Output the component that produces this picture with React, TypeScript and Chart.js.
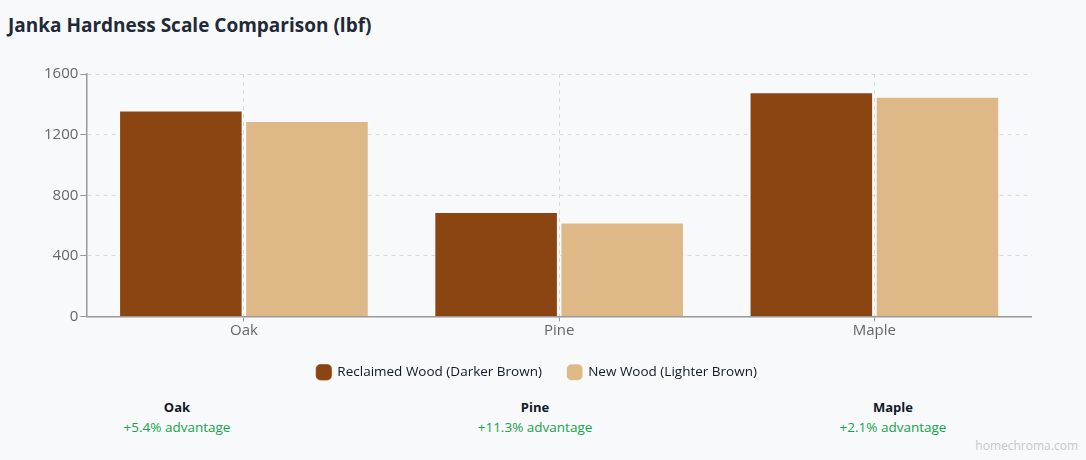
import React, { useEffect, useRef } from "react";
import { Chart, registerables } from "chart.js";

Chart.register(...registerables);

const woods = ["Oak", "Pine", "Maple"];
const reclaimed = [1360, 690, 1480];
const newWood = [1290, 620, 1450];
const yTicks = [0, 400, 800, 1200, 1600];

const FONT = "'Open Sans', 'Noto Sans', sans-serif";

// draws the dashed line on the right edge of the plot
const rightEdge = {
  id: "rightEdge",
  beforeDatasetsDraw(chart: any) {
    const { ctx, chartArea } = chart;
    ctx.save();
    ctx.strokeStyle = "#d9d9d9";
    ctx.lineWidth = 1;
    ctx.setLineDash([4, 4]);
    ctx.beginPath();
    ctx.moveTo(chartArea.right + 0.5, chartArea.top);
    ctx.lineTo(chartArea.right + 0.5, chartArea.bottom);
    ctx.stroke();
    ctx.restore();
  },
};

const WoodChart: React.FC = () => {
  const chartRef = useRef<HTMLCanvasElement | null>(null);

  useEffect(() => {
    const canvas = chartRef.current;
    if (!canvas) return;
    const context = canvas.getContext("2d");
    if (!context) return;

    const chart = new Chart(context, {
      type: "bar",
      data: {
        labels: woods,
        datasets: [
          {
            label: "Reclaimed Wood (Darker Brown)",
            data: reclaimed,
            backgroundColor: "#8B4513",
            borderColor: "rgba(255,255,255,0.35)",
            borderWidth: 1,
            categoryPercentage: 0.8,
            barPercentage: 0.98,
          },
          {
            label: "New Wood (Lighter Brown)",
            data: newWood,
            backgroundColor: "#DEB887",
            borderColor: "rgba(255,255,255,0.6)",
            borderWidth: 1,
            categoryPercentage: 0.8,
            barPercentage: 0.98,
          },
        ],
      },
      options: {
        responsive: true,
        maintainAspectRatio: false,
        animation: false,
        layout: { padding: 0 },
        plugins: {
          legend: {
            position: "bottom",
            labels: {
              usePointStyle: true,
              pointStyle: "rectRounded",
              boxWidth: 16,
              boxHeight: 16,
              padding: 26,
              color: "#111827",
              font: { family: FONT, size: 13.5 },
            },
          },
          tooltip: { enabled: false },
        },
        scales: {
          x: {
            grid: {
              offset: false,
              color: "#d9d9d9",
              tickColor: "#999",
              tickLength: 5,
            },
            border: { color: "#999", width: 1.5, dash: [4, 4] },
            ticks: {
              color: "#666",
              font: { family: FONT, size: 15 },
              padding: 0,
            },
          },
          y: {
            min: 0,
            max: 1600,
            afterBuildTicks: (axis: any) => {
              axis.ticks = yTicks.map((v) => ({ value: v }));
            },
            grid: {
              color: "#d9d9d9",
              tickColor: "#999",
              tickLength: 6,
            },
            border: { color: "#999", width: 1.5, dash: [4, 4] },
            ticks: {
              color: "#666",
              font: { family: FONT, size: 15 },
              padding: 2,
              callback: (v: any) => String(v),
            },
          },
        },
      },
      plugins: [rightEdge],
    });

    return () => {
      chart.destroy();
    };
  }, []);

  return (
    <div
      style={{
        position: "absolute",
        left: 42,
        top: 63,
        width: 990,
        height: 326,
      }}
    >
      <canvas ref={chartRef} />
    </div>
  );
};

const App: React.FC = () => {
  const stats = woods.map((w, i) => ({
    name: w,
    pct: ((reclaimed[i] - newWood[i]) / newWood[i]) * 100,
  }));

  return (
    <div
      style={{
        position: "fixed",
        inset: 0,
        background: "#f8f9fb",
        fontFamily: FONT,
        overflow: "hidden",
      }}
    >
      <div
        style={{
          position: "absolute",
          left: 8,
          top: 12,
          fontSize: 19,
          fontWeight: 700,
          color: "#1f2937",
        }}
      >
        Janka Hardness Scale Comparison (lbf)
      </div>
      <WoodChart />
      <div
        style={{
          position: "absolute",
          left: 27,
          top: 397,
          width: 1016,
          display: "grid",
          gridTemplateColumns: "1fr 1fr 1fr",
          columnGap: 58,
          textAlign: "center",
        }}
      >
        {stats.map((s) => (
          <div key={s.name}>
            <div style={{ fontSize: 13, fontWeight: 700, color: "#111827", lineHeight: "20px" }}>
              {s.name}
            </div>
            <div style={{ fontSize: 13.5, color: "#16a34a", lineHeight: "20px" }}>
              +{s.pct.toFixed(1)}% advantage
            </div>
          </div>
        ))}
      </div>
      <div
        style={{
          position: "absolute",
          right: 8,
          bottom: 6,
          fontSize: 12,
          color: "#c8c8c8",
        }}
      >
        homechroma.com
      </div>
    </div>
  );
};

export default App;
